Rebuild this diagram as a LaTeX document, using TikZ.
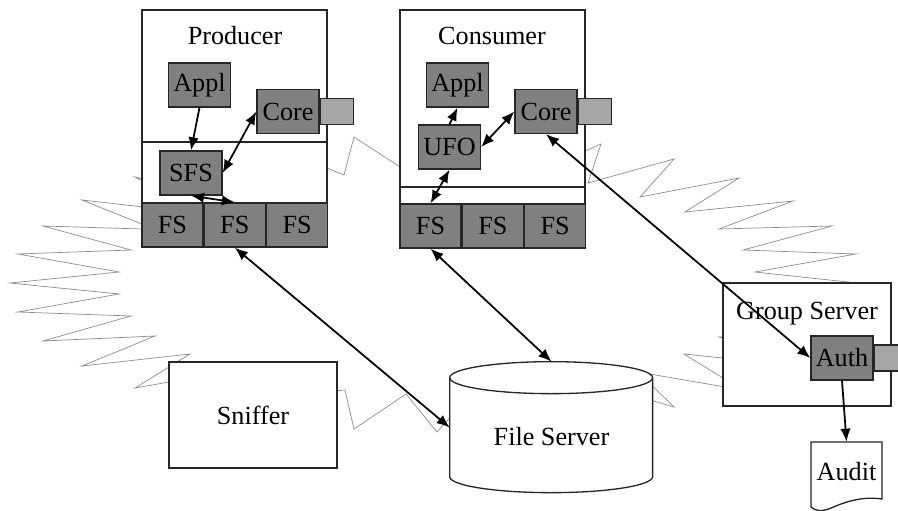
\documentclass[tikz,border=0pt]{standalone}
\usepackage{fontspec}
\setmainfont{Liberation Serif}
\usepackage{tikz}
\usetikzlibrary{arrows.meta,positioning}

\begin{document}
\begin{tikzpicture}[x=0.02cm,y=-0.02cm,
  font=\fontsize{14.9}{16}\selectfont,
  box/.style={draw=black!85,line width=0.75pt,fill=gray,minimum width=1.24cm,minimum height=0.88cm,inner sep=0pt},
  cell/.style={box,minimum width=1.22cm},
  port/.style={draw=black!85,line width=0.75pt,fill=black!35,minimum width=0.66cm,minimum height=0.52cm,inner sep=0pt},
  frame/.style={draw=black!85,line width=0.65pt,fill=white},
  link/.style={{Latex[length=2.6mm,width=2.1mm]}-{Latex[length=2.6mm,width=2.1mm]},line width=1pt},
  oneway/.style={-{Latex[length=2.6mm,width=2.1mm]},line width=1pt}]
\useasboundingbox (0,0) rectangle (898,510);
\clip (0,0) rectangle (898,510);

% Noise cloud (behind everything)
\draw[gray!90,line width=0.4pt] (170,185) -- (300,157) -- (344,175) -- (354,137) -- (440,193)
  -- (540,171) -- (601,144) -- (588,183) -- (674,159) -- (640,197) -- (739,178) -- (685,212)
  -- (793,201) -- (719,229) -- (832,226) -- (743,250) -- (856,254) -- (755,272) -- (885,286)
  -- (800,334) -- (719,337) -- (800,366) -- (684,354) -- (742.6,390) -- (638,372) -- (674,407)
  -- (640,397) -- (470,395) -- (437,432) -- (406,394) -- (354,429) -- (345,390) -- (280,395)
  -- (220,373) -- (135,388) -- (190,354) -- (82,366) -- (155,336) -- (43,341) -- (131,316)
  -- (18,312) -- (119,294) -- (10,283) -- (119,272) -- (18,254) -- (131,250) -- (43,226)
  -- (155,229.4) -- (82,200) -- (170,210) -- (170,195) -- (135,177) -- cycle;

% Producer
\draw[frame] (142,10) rectangle (327,247);
\draw[black!85,line width=0.65pt] (142,142) -- (327,142);
\node (prodlbl) at (235,36) {Producer};
\node[box] (pappl) at (199.5,85) {Appl};
\node[box] (pcore) at (288,111.5) {Core};
\node[port,right=0pt of pcore] (pport) {};
\node[box] (sfs) at (191,173) {SFS};
\node[cell] (pfs1) at (172.5,225) {FS};
\node[cell,right=0pt of pfs1] (pfs2) {FS};
\node[cell,right=0pt of pfs2] (pfs3) {FS};

% Consumer
\draw[frame] (400,10) rectangle (585,248);
\draw[black!85,line width=0.65pt] (400,187) -- (585,187);
\node (conslbl) at (492,36) {Consumer};
\node[box] (cappl) at (457.5,85) {Appl};
\node[box] (ccore) at (546,111.5) {Core};
\node[port,right=0pt of ccore] (cport) {};
\node[box] (ufo) at (449.5,147) {UFO};
\node[cell] (cfs1) at (430.5,226) {FS};
\node[cell,right=0pt of cfs1] (cfs2) {FS};
\node[cell,right=0pt of cfs2] (cfs3) {FS};

% Sniffer
\node[frame,minimum width=3.36cm,minimum height=2.12cm,inner sep=0pt] (sniffer) at (253,415) {Sniffer};

% File server (cylinder)
\node[minimum width=4.06cm,minimum height=2.62cm,inner sep=0pt] (fsrv) at (551.5,427.5) {};
\draw[frame,line width=0.75pt] (fsrv.north west) ++(0,16) -- ++(0,99)
  arc[start angle=180,end angle=360,x radius=2.03cm,y radius=0.32cm] -- ++(0,-99)
  arc[start angle=0,end angle=180,x radius=2.03cm,y radius=0.32cm] -- cycle;
\draw[black!85,line width=0.75pt] (fsrv.north west) ++(0,16)
  arc[start angle=180,end angle=360,x radius=2.03cm,y radius=0.32cm];
\node (fslbl) at (551.5,437) {File Server};

% Group server
\draw[frame] (723,283) rectangle (891,406);
\node (gslbl) at (807,314) {Group Server};
\node[box] (auth) at (842,358) {Auth};
\node[port,right=0pt of auth] (aport) {};

% Audit log
\draw[frame,line width=0.75pt] (811,442) -- (882,442) -- (882,499)
  .. controls (862,496) and (845,502) .. (831,508)
  .. controls (822,512) and (815,511) .. (811,507) -- cycle;
\node[minimum width=1.42cm,minimum height=1.2cm,inner sep=0pt] (audit) at (846.5,472) {Audit};

% Connections
\draw[oneway] (pappl.south) -- (sfs.north);
\draw[link] (pcore.west) -- (sfs.east);
\draw[link] (sfs.south) -- (pfs2.north);
\draw[oneway] (ufo.north) -- (cappl.south);
\draw[link] (ufo.east) -- (ccore.west);
\draw[link] (ufo.south) -- (cfs1.north);
\draw[link] (pfs2.south) -- (fsrv.west);
\draw[link] (cfs1.south) -- (fsrv.north);
\draw[link] (ccore.south) -- (auth.west);
\draw[oneway] (auth.south) -- (audit.north);
\end{tikzpicture}
\end{document}
